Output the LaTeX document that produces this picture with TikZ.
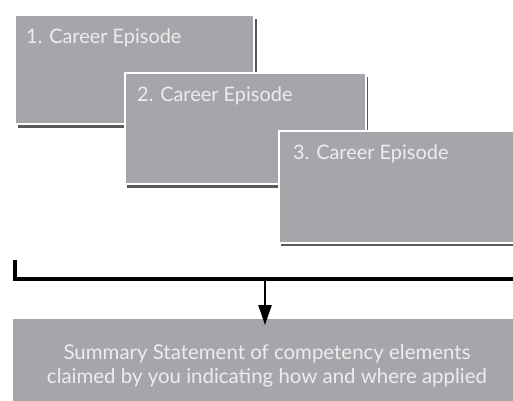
\documentclass[tikz,border=0pt]{standalone}
\usepackage{fontspec}
\setmainfont{Lato}
\usetikzlibrary{arrows.meta}
\definecolor{boxgray}{HTML}{A5A6AA}
\definecolor{shadowgray}{HTML}{5A5A5C}
\definecolor{textwhite}{HTML}{EDEDED}
\tikzset{
  shadowcard/.style={fill=shadowgray, draw=none, anchor=north west, inner sep=0pt},
  card/.style={fill=boxgray, draw=white, line width=1.5bp, anchor=north west, inner sep=0pt},
  cardtext/.style={text=textwhite, font=\fontsize{20}{24}\selectfont, anchor=base west, inner sep=0pt},
  sumbox/.style={fill=boxgray, draw=none, anchor=north west, inner sep=0pt},
  sumtext/.style={text=textwhite, font=\fontsize{20.5}{24}\selectfont, anchor=base, inner sep=0pt},
  bracket/.style={line width=3.5bp, black},
  flow/.style={line width=2.5bp, black, -{Triangle[width=13bp,length=20bp]}}
}
\begin{document}
\begin{tikzpicture}[x=1bp,y=-1bp]
\useasboundingbox (0,0) rectangle (513,400);
% card 1
\node[shadowcard, minimum width=239bp, minimum height=109bp] (s1) at (18,19) {};
\node[card, minimum width=239bp, minimum height=109bp] (c1) at (14,14) {};
\node[cardtext] (t1) at (26,43.5) {1. Career Episode};
% card 2
\node[shadowcard, minimum width=241bp, minimum height=111bp] (s2) at (127,77) {};
\node[card, minimum width=241bp, minimum height=111bp] (c2) at (124,72) {};
\node[cardtext] (t2) at (137,101.5) {2. Career Episode};
% card 3
\node[shadowcard, minimum width=245bp, minimum height=112bp] (s3) at (281,134) {};
\node[card, minimum width=245bp, minimum height=112bp] (c3) at (278,130) {};
\node[cardtext] (t3) at (293,159) {3. Career Episode};
% bracket
\coordinate (bl) at (15,260);
\coordinate (bc) at (15,279);
\coordinate (br) at (520,279);
\coordinate (am) at (265,279);
\draw[bracket] (bl) -- (bc) -- (br);
% summary
\node[sumbox, minimum width=510bp, minimum height=85bp] (sum) at (13,319) {};
\node[sumtext] (st1) at (267,359.5) {Summary Statement of competency elements};
\node[sumtext] (st2) at (267,383) {claimed by you indicating how and where applied};
\draw[flow] (am) -- ([yshift=-6bp]sum.north -| am);
\end{tikzpicture}
\end{document}
